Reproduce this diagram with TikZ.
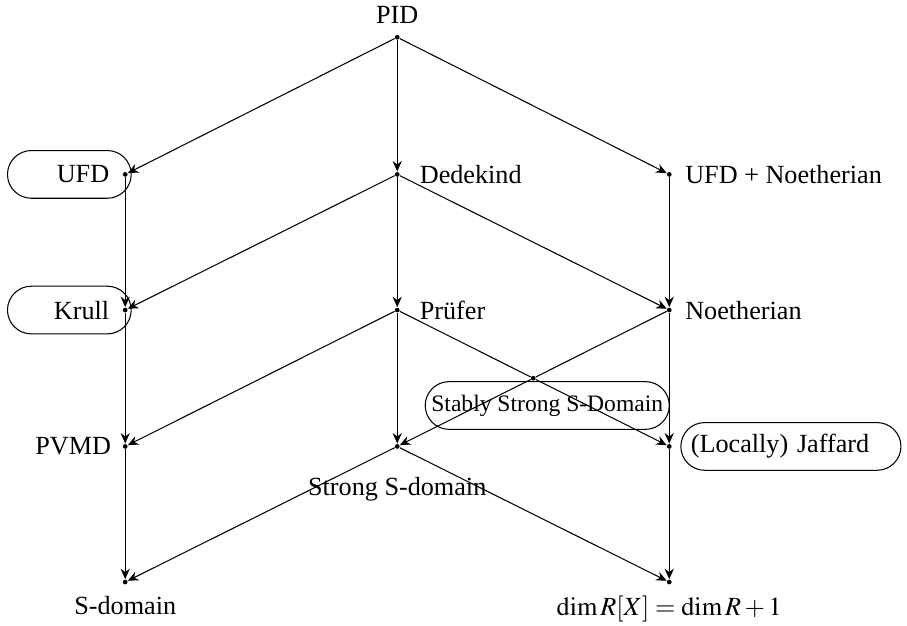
\documentclass[tikz,border=0pt]{standalone}
\usepackage{mathptmx}
\usepackage{fontspec}
\setmainfont{Liberation Serif}
\usepackage{tikz}
\usetikzlibrary{arrows.meta, positioning, calc}

\tikzset{
  dot/.style={circle, fill=black, inner sep=0pt, minimum size=1.8pt},
  imp/.style={-{Stealth[length=4pt, width=3.5pt]}},
  pill/.style={draw, rounded corners=0.32cm, minimum height=0.64cm},
}

\begin{document}
\begin{tikzpicture}
  \useasboundingbox (0,0) rectangle (12.17,-8.39);

  % Points of the diagram
  \node[dot] (pid) at (5.33,-0.50) {};
  \node[dot] (ufd) at (1.68,-2.34) {};
  \node[dot] (dedekind) at (5.33,-2.34) {};
  \node[dot] (ufdnoeth) at (8.98,-2.34) {};
  \node[dot] (krull) at (1.68,-4.16) {};
  \node[dot] (prufer) at (5.33,-4.16) {};
  \node[dot] (noeth) at (8.98,-4.16) {};
  \node[dot] (pvmd) at (1.68,-5.99) {};
  \node[dot] (strongs) at (5.33,-5.99) {};
  \node[dot] (jaffard) at (8.98,-5.99) {};
  \node[dot] (sdomain) at (1.68,-7.81) {};
  \node[dot] (dimeq) at (8.98,-7.81) {};
  \node[dot] (stably) at ($(prufer)!0.5!(jaffard)$) {};

  % Labels
  \node[above=0.5pt of pid] (pidlbl) {PID};
  \node[pill, left=-0.126cm of ufd, text width=1.07cm, align=right, inner xsep=0.295cm] (ufdlbl) {UFD};
  \node[right=4pt of dedekind] (dedekindlbl) {Dedekind};
  \node[right=1.5pt of ufdnoeth] (ufdnoethlbl) {UFD + Noetherian};
  \node[pill, left=-0.126cm of krull, text width=1.07cm, align=right, inner xsep=0.295cm] (krulllbl) {Krull};
  \node[right=4pt of prufer] (pruferlbl) {Prüfer};
  \node[right=1.5pt of noeth] (noethlbl) {Noetherian};
  \node[pill, below=0cm of stably, xshift=0.188cm, minimum width=3.275cm, inner xsep=2pt, font=\small] (stablylbl) {Stably Strong S-Domain};
  \node[left=0.8pt of pvmd] (pvmdlbl) {PVMD};
  \node[below=7pt of strongs] (strongslbl) {Strong S-domain};
  \node[pill, right=0.11cm of jaffard, text width=2.685cm, align=left, inner xsep=0.134cm] (jaffardlbl) {(Locally) Jaffard};
  \node[below=1pt of sdomain] (sdomainlbl) {S-domain};
  \node[below=0.5pt of dimeq] (dimeqlbl) {$\dim R[X] = \dim R + 1$};

  % Implications
  \draw[imp] (pid) -- (ufd);
  \draw[imp] (pid) -- (dedekind);
  \draw[imp] (pid) -- (ufdnoeth);
  \draw[imp] (ufd) -- (krull);
  \draw[imp] (dedekind) -- (krull);
  \draw[imp] (dedekind) -- (prufer);
  \draw[imp] (dedekind) -- (noeth);
  \draw[imp] (ufdnoeth) -- (noeth);
  \draw[imp] (krull) -- (pvmd);
  \draw[imp] (prufer) -- (pvmd);
  \draw[imp] (prufer) -- (strongs);
  \draw[imp] (prufer) -- (stably) -- (jaffard);
  \draw[imp] (noeth) -- (stably) -- (strongs);
  \draw[imp] (noeth) -- (jaffard);
  \draw[imp] (pvmd) -- (sdomain);
  \draw[imp] (strongs) -- (sdomain);
  \draw[imp] (strongs) -- (dimeq);
  \draw[imp] (jaffard) -- (dimeq);
\end{tikzpicture}
\end{document}
